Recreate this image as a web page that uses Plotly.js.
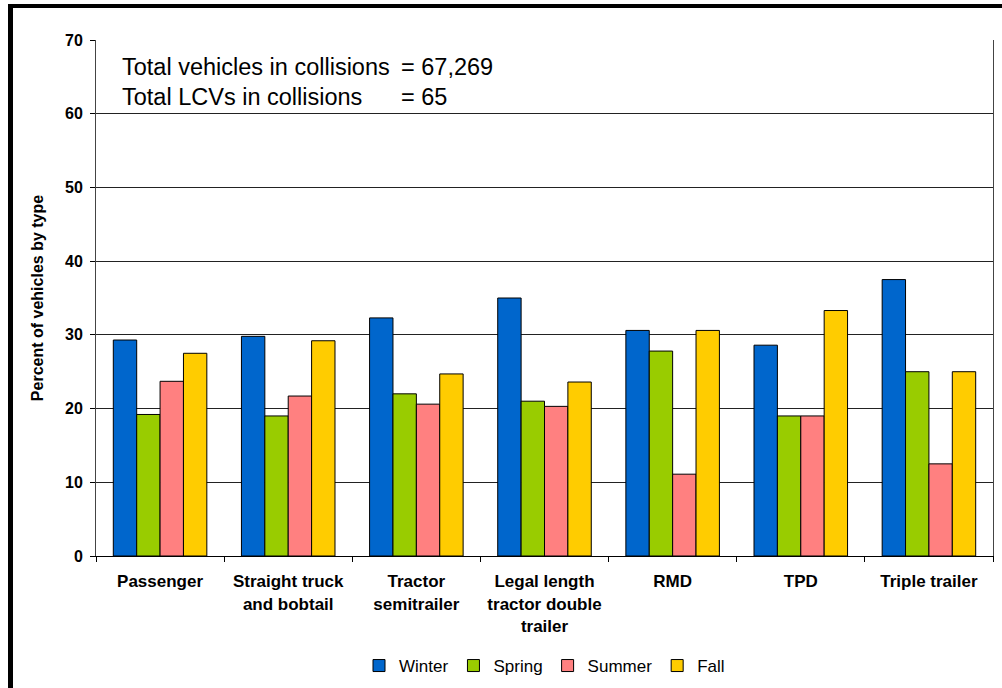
<!DOCTYPE html>
<html>
<head>
<meta charset="utf-8">
<script src="https://cdn.plot.ly/plotly-3.0.1.min.js"></script>
<style>
  html, body { margin: 0; padding: 0; background: #fff; }
  #wrap { position: relative; width: 1002px; height: 688px; overflow: hidden; }
  #chart { position: absolute; left: 0; top: 0; width: 1002px; height: 688px; }
  #frame { position: absolute; left: 8px; top: 4px; width: 1100px; height: 800px;
           border-top: 4px solid #000; border-left: 5px solid #000; pointer-events: none; }
</style>
</head>
<body>
<div id="wrap">
  <div id="chart"></div>
  <div id="frame"></div>
</div>
<script>
const categories = [
  "Passenger",
  "Straight truck<br>and bobtail",
  "Tractor<br>semitrailer",
  "Legal length<br>tractor double<br>trailer",
  "RMD",
  "TPD",
  "Triple trailer"
];
const winter = [29.3, 29.8, 32.3, 35.0, 30.6, 28.6, 37.5];
const spring = [19.2, 19.0, 22.0, 21.0, 27.8, 19.0, 25.0];
const summer = [23.7, 21.7, 20.6, 20.3, 11.1, 19.0, 12.5];
const fall   = [27.5, 29.2, 24.7, 23.6, 30.6, 33.3, 25.0];
const seriesNames = ["Winter", "Spring", "Summer", "Fall"];
const seriesColors = ["#0066CC", "#99CC00", "#FF8080", "#FFCC00"];
const yTicks = [0, 10, 20, 30, 40, 50, 60, 70];
const noteLabels = ["Total vehicles in collisions", "Total LCVs in collisions"];
const noteValues = ["= 67,269", "= 65"];

const seriesData = [winter, spring, summer, fall];
const traces = seriesData.map((vals, i) => ({
  type: "bar",
  name: seriesNames[i],
  x: categories,
  y: vals,
  marker: { color: seriesColors[i], line: { color: "#000", width: 1 } },
  hoverinfo: "x+y+name"
}));

const font = "Liberation Sans, Arial, sans-serif";
const noteY = [0.948, 0.889];
const annotations = [];
noteLabels.forEach((t, i) => {
  annotations.push({ xref: "paper", yref: "paper", x: 0.027, y: noteY[i], xanchor: "left", yanchor: "middle",
    text: t, showarrow: false, font: { family: font, size: 23.5, color: "#000" } });
  annotations.push({ xref: "paper", yref: "paper", x: 0.3375, y: noteY[i], xanchor: "left", yanchor: "middle",
    text: noteValues[i], showarrow: false, font: { family: font, size: 23.5, color: "#000" } });
});

const layout = {
  width: 1002, height: 688,
  margin: { l: 96, r: 9, t: 40, b: 132 },
  paper_bgcolor: "#fff", plot_bgcolor: "#fff",
  barmode: "group", bargap: 0.27, bargroupgap: 0,
  font: { family: font, color: "#000" },
  showlegend: true,
  legend: {
    orientation: "h", xref: "paper", x: 0.5, xanchor: "center",
    yref: "container", y: 0.032, yanchor: "middle",
    font: { family: font, size: 17, color: "#000" },
    traceorder: "normal", itemwidth: 30, tracegroupgap: 0
  },
  xaxis: {
    type: "category",
    tickson: "boundaries", ticks: "outside", ticklen: 5, tickcolor: "#000",
    showline: true, linecolor: "#000", linewidth: 1,
    showgrid: false, zeroline: false, automargin: false,
    tickfont: { family: font, size: 17, color: "#000", weight: "bold" },
    ticklabelstandoff: 10,
    tickangle: 0, fixedrange: true
  },
  yaxis: {
    range: [0, 70], tickvals: yTicks, ticktext: yTicks.map(String),
    ticks: "outside", ticklen: 5, tickcolor: "#000",
    showline: true, linecolor: "#444", linewidth: 1, mirror: true,
    showgrid: true, gridcolor: "#222", gridwidth: 1, zeroline: false, automargin: false,
    tickfont: { family: font, size: 16, color: "#000", weight: "bold" },
    ticklabelstandoff: 4,
    title: { text: "Percent of vehicles by type", font: { family: font, size: 16, color: "#000", weight: "bold" }, standoff: 17 },
    fixedrange: true
  },
  annotations: annotations
};

Plotly.newPlot("chart", traces, layout, { displayModeBar: false, staticPlot: true });
</script>
</body>
</html>
